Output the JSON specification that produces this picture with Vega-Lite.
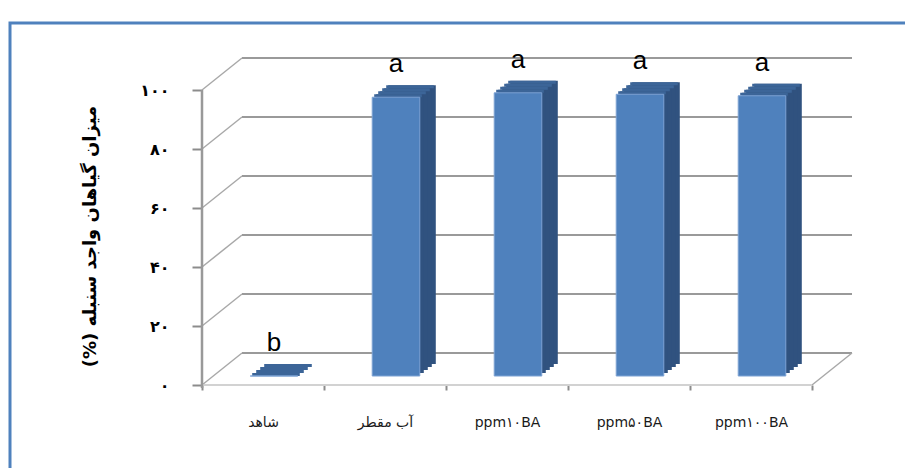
{
  "$schema": "https://vega.github.io/schema/vega-lite/v6.json",
  "width": 994,
  "height": 470,
  "autosize": {"type": "none"},
  "padding": {"left": 10, "top": 23, "right": 0, "bottom": 0},
  "config": {
    "view": {"stroke": "#4f81bd", "strokeWidth": 3},
    "font": "DejaVu Sans"
  },
  "datasets": {
    "bars": [
      {"treatment": "شاهد", "value": 0, "group": "b"},
      {"treatment": "آب مقطر", "value": 94.5, "group": "a"},
      {"treatment": "ppm۱۰BA", "value": 96, "group": "a"},
      {"treatment": "ppm۵۰BA", "value": 95.5, "group": "a"},
      {"treatment": "ppm۱۰۰BA", "value": 95, "group": "a"}
    ],
    "grid": [{"v": 0}, {"v": 20}, {"v": 40}, {"v": 60}, {"v": 80}, {"v": 100}]
  },
  "layer": [
    {
      "data": {"name": "bars"},
      "mark": {"type": "bar", "fill": "#4f81bd", "width": {"band": 0.39}, "xOffset": 11, "x2Offset": 11, "yOffset": -9, "y2Offset": -9, "opacity": 0},
      "encoding": {
        "x": {
          "field": "treatment", "type": "nominal",
          "scale": {"type": "band", "domain": ["شاهد", "آب مقطر", "ppm۱۰BA", "ppm۵۰BA", "ppm۱۰۰BA"], "range": [192, 802], "paddingInner": 0, "paddingOuter": 0},
          "axis": {"orient": "bottom", "offset": -108, "domain": false, "grid": false, "tickBand": "extent", "tickSize": 5, "tickWidth": 2, "tickColor": "#8c8c8c", "labelPadding": 25, "labelFont": "DejaVu Sans", "labelFontSize": 14, "labelColor": "#1a1a1a", "labelAngle": 0, "title": null}
        },
        "y": {
          "field": "value", "type": "quantitative",
          "scale": {"domain": [-36.61, 122.712], "nice": false, "zero": false},
          "axis": {
            "values": [0, 20, 40, 60, 80, 100], "offset": -192, "domain": false, "grid": false,
            "tickSize": 10, "tickWidth": 2, "tickColor": "#8c8c8c",
            "labelPadding": 23, "labelFont": "DejaVu Sans", "labelFontSize": 16, "labelFontWeight": "bold", "labelColor": "#000000",
            "labelExpr": "datum.value == 0 ? '۰' : datum.value == 20 ? '۲۰' : datum.value == 40 ? '۴۰' : datum.value == 60 ? '۶۰' : datum.value == 80 ? '۸۰' : '۱۰۰'",
            "title": "(%) میزان گیاهان واجد سنبله",
            "titleFont": "DejaVu Sans", "titleFontSize": 18, "titleFontWeight": "bold", "titleColor": "#000000",
            "titleX": -112, "titleY": 213, "titleAngle": -90, "titleAlign": "center", "titleBaseline": "middle"
          }
        },
        "y2": {"datum": 0}
      }
    },
    {
      "data": {"name": "grid"},
      "mark": {"type": "rule", "color": "#9a9a9a", "strokeWidth": 2, "xOffset": 40, "x2Offset": 40, "yOffset": -32},
      "encoding": {
        "y": {"field": "v", "type": "quantitative"},
        "x": {"datum": "شاهد", "type": "nominal", "bandPosition": 0},
        "x2": {"datum": "ppm۱۰۰BA", "bandPosition": 1}
      }
    },
    {
      "data": {"name": "grid"},
      "mark": {"type": "rule", "color": "#a8a8a8", "strokeWidth": 1.5, "x2Offset": 40, "y2Offset": -32},
      "encoding": {
        "y": {"field": "v", "type": "quantitative"},
        "y2": {"field": "v"},
        "x": {"datum": "شاهد", "type": "nominal", "bandPosition": 0},
        "x2": {"datum": "شاهد", "bandPosition": 0}
      }
    },
    {
      "data": {"name": "grid"},
      "transform": [{"filter": "datum.v == 0"}],
      "mark": {"type": "rule", "color": "#a8a8a8", "strokeWidth": 1.5, "x2Offset": 40, "y2Offset": -32},
      "encoding": {
        "y": {"field": "v", "type": "quantitative"},
        "y2": {"field": "v"},
        "x": {"datum": "ppm۱۰۰BA", "type": "nominal", "bandPosition": 1},
        "x2": {"datum": "ppm۱۰۰BA", "bandPosition": 1}
      }
    },
    {
      "data": {"name": "grid"},
      "transform": [{"filter": "datum.v == 0"}],
      "mark": {"type": "rule", "color": "#d2d2d2", "strokeWidth": 2},
      "encoding": {
        "y": {"field": "v", "type": "quantitative"},
        "x": {"datum": "شاهد", "type": "nominal", "bandPosition": 0},
        "x2": {"datum": "ppm۱۰۰BA", "bandPosition": 1}
      }
    },
    {
      "data": {"name": "grid"},
      "transform": [{"filter": "datum.v == 100"}],
      "mark": {"type": "rule", "color": "#999999", "strokeWidth": 2.5},
      "encoding": {
        "y": {"field": "v", "type": "quantitative"},
        "y2": {"datum": -1},
        "x": {"datum": "شاهد", "type": "nominal", "bandPosition": 0}
      }
    },
    {
      "data": {"name": "bars"},
      "layer": [
        {"mark": {"type": "bar", "fill": "#30527f", "width": {"band": 0.39}, "xOffset": 27, "x2Offset": 27, "yOffset": -21, "y2Offset": -21}},
        {"mark": {"type": "bar", "fill": "#30527f", "width": {"band": 0.39}, "xOffset": 23, "x2Offset": 23, "yOffset": -18, "y2Offset": -18}},
        {"mark": {"type": "bar", "fill": "#30527f", "width": {"band": 0.39}, "xOffset": 19, "x2Offset": 19, "yOffset": -15, "y2Offset": -15}},
        {"mark": {"type": "bar", "fill": "#30527f", "width": {"band": 0.39}, "xOffset": 15, "x2Offset": 15, "yOffset": -12, "y2Offset": -12}}
      ],
      "encoding": {
        "x": {"field": "treatment", "type": "nominal"},
        "y": {"field": "value", "type": "quantitative"},
        "y2": {"datum": 0}
      }
    },
    {
      "data": {"name": "bars"},
      "layer": [
        {"mark": {"type": "bar", "fillOpacity": 0, "stroke": "#3c6598", "strokeWidth": 3, "width": {"band": 0.39}, "xOffset": 25, "x2Offset": 25, "yOffset": -19.5, "y2Offset": -19.5}},
        {"mark": {"type": "bar", "fillOpacity": 0, "stroke": "#3c6598", "strokeWidth": 3, "width": {"band": 0.39}, "xOffset": 21, "x2Offset": 21, "yOffset": -16.5, "y2Offset": -16.5}},
        {"mark": {"type": "bar", "fillOpacity": 0, "stroke": "#3c6598", "strokeWidth": 3, "width": {"band": 0.39}, "xOffset": 17, "x2Offset": 17, "yOffset": -13.5, "y2Offset": -13.5}},
        {"mark": {"type": "bar", "fillOpacity": 0, "stroke": "#3c6598", "strokeWidth": 3, "width": {"band": 0.39}, "xOffset": 13, "x2Offset": 13, "yOffset": -10.5, "y2Offset": -10.5}}
      ],
      "encoding": {
        "x": {"field": "treatment", "type": "nominal"},
        "y": {"field": "value", "type": "quantitative"},
        "y2": {"field": "value"}
      }
    },
    {
      "data": {"name": "bars"},
      "mark": {"type": "bar", "fill": "#4f81bd", "stroke": "#7da2d4", "strokeWidth": 1, "width": {"band": 0.39}, "xOffset": 11, "x2Offset": 11, "yOffset": -9, "y2Offset": -9},
      "encoding": {
        "x": {"field": "treatment", "type": "nominal"},
        "y": {"field": "value", "type": "quantitative"},
        "y2": {"datum": 0}
      }
    },
    {
      "data": {"name": "bars"},
      "mark": {"type": "text", "font": "Liberation Sans Narrow, Liberation Sans, sans-serif", "fontSize": 26, "color": "#000000", "align": "center", "baseline": "alphabetic", "xOffset": 11, "yOffset": -34},
      "encoding": {
        "x": {"field": "treatment", "type": "nominal"},
        "y": {"field": "value", "type": "quantitative"},
        "text": {"field": "group"}
      }
    }
  ]
}
